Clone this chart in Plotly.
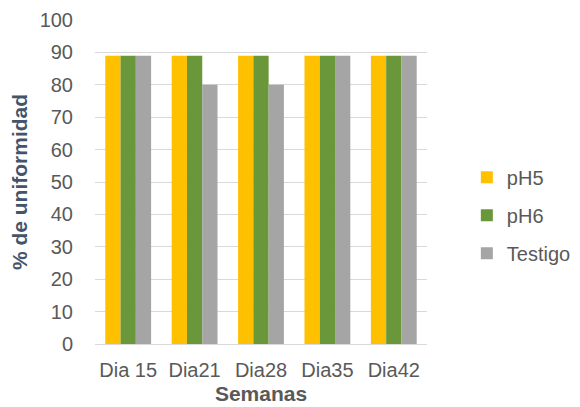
import plotly.graph_objects as go

# datos
dias = ["Dia 15", "Dia21", "Dia28", "Dia35", "Dia42"]
ph5 = [89, 89, 89, 89, 89]
ph6 = [89, 89, 89, 89, 89]
testigo = [89, 80, 80, 89, 89]

series = [("pH5", ph5, "#FFC000"), ("pH6", ph6, "#6A973A"), ("Testigo", testigo, "#A5A5A5")]

fig = go.Figure()
for nombre, vals, color in series:
    fig.add_trace(go.Bar(x=dias, y=vals, name=nombre, marker_color=color,
                         marker_line_width=0, legendgroup=nombre))

fig.update_layout(
    width=580, height=407,
    margin=dict(l=87, r=143, t=12, b=71),
    paper_bgcolor="white", plot_bgcolor="white",
    font=dict(family="Liberation Sans, Arial", size=20, color="#595959"),
    barmode="group", bargap=0.31, bargroupgap=0,
    legend=dict(x=1.12, y=0.397, xanchor="left", yanchor="middle",
                font=dict(size=20, color="#595959"), tracegroupgap=9,
                itemwidth=30),
)
fig.update_xaxes(
    title=dict(text="<b>Semanas</b>", font=dict(size=21, color="#595959"), standoff=6),
    showline=True, linecolor="#D9D9D9", linewidth=1, ticks="",
    ticklabelstandoff=8, automargin=False,
)
fig.update_yaxes(
    title=dict(text="<b>% de uniformidad</b>", font=dict(size=21, color="#44546A"), standoff=12),
    range=[0, 100], dtick=10, showgrid=True, gridcolor="#D9D9D9", gridwidth=1,
    zeroline=False, ticks="", ticklabelstandoff=21, automargin=False,
)

fig.write_html("out.html")
